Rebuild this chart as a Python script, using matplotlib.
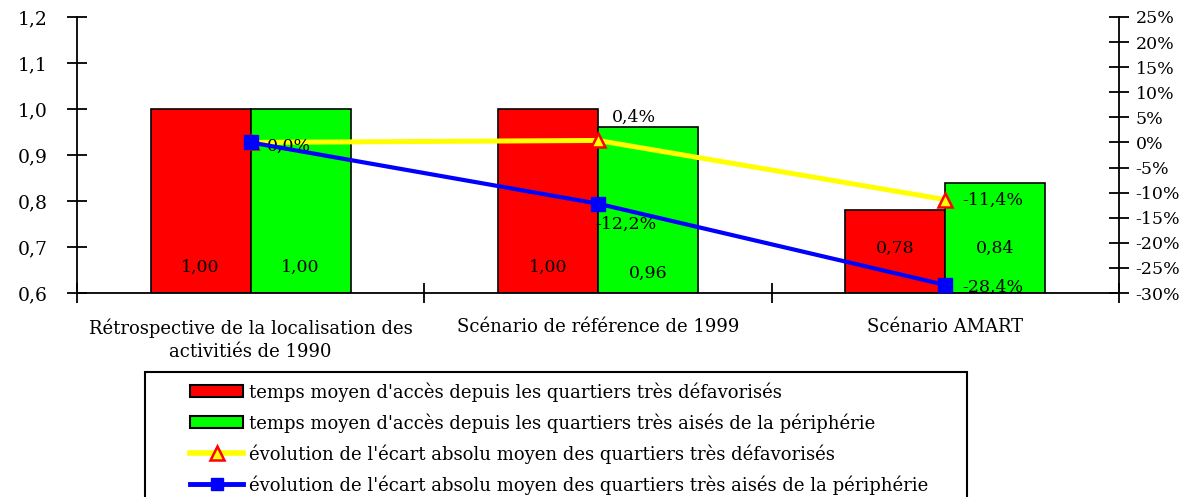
import matplotlib
matplotlib.use("Agg")
import matplotlib.pyplot as plt
import numpy as np
from matplotlib.patches import Rectangle
from matplotlib.lines import Line2D
from matplotlib.ticker import FixedLocator, FuncFormatter

plt.rcParams['font.family'] = ['DejaVu Serif']

# scenarios
categories = ["Rétrospective de la localisation des\nactivitiés de 1990",
              "Scénario de référence de 1999",
              "Scénario AMART"]

# mean access time (index, 1990 = 1)
temps_defavorises = [1.00, 1.00, 0.78]
temps_aises = [1.00, 0.96, 0.84]

# change in mean absolute gap (%)
ecart_defavorises = [0.0, 0.4, -11.4]
ecart_aises = [0.0, -12.2, -28.4]

legend_labels = [
    "temps moyen d'accès depuis les quartiers très défavorisés",
    "temps moyen d'accès depuis les quartiers très aisés de la périphérie",
    "évolution de l'écart absolu moyen des quartiers très défavorisés",
    "évolution de l'écart absolu moyen des quartiers très aisés de la périphérie",
]

RED = '#ff0000'
GREEN = '#00ff00'
YELLOW = '#ffff00'
BLUE = '#0000ff'
FS = 13        # category labels and legend
FS_VAL = 12.5  # value labels

fig = plt.figure(figsize=(11.88, 4.97), dpi=100)
ax = fig.add_axes([77 / 1188, 1 - 293 / 497, (1119 - 77) / 1188, (293 - 17) / 497])

x = np.arange(len(categories))
w = 0.288
ax.bar(x - w / 2, np.array(temps_defavorises) - 0.6, w, bottom=0.6,
       color=RED, edgecolor='black', linewidth=1.2)
ax.bar(x + w / 2, np.array(temps_aises) - 0.6, w, bottom=0.6,
       color=GREEN, edgecolor='black', linewidth=1.2)

ax.set_xlim(-0.5, len(categories) - 0.5)
ax.set_ylim(0.6, 1.2)
ax.set_yticks(np.arange(0.6, 1.21, 0.1))
ax.yaxis.set_major_formatter(FuncFormatter(lambda v, p: f"{v:.1f}".replace('.', ',')))

# boundary ticks on the category axis, labels centred between them
ax.xaxis.set_major_locator(FixedLocator(np.arange(-0.5, len(categories), 1.0)))
ax.xaxis.set_minor_locator(FixedLocator(x))
ax.xaxis.set_major_formatter(FuncFormatter(lambda v, p: ""))
ax.set_xticklabels(categories, minor=True, fontsize=FS, linespacing=1.4)
ax.tick_params(axis='x', which='minor', length=0, pad=18)
ax.tick_params(axis='x', which='major', direction='inout', length=14, width=1.3)
ax.tick_params(axis='y', direction='inout', length=14, width=1.3, labelsize=13.5, pad=14)

for s in ['top', 'right']:
    ax.spines[s].set_visible(False)
for s in ['left', 'bottom']:
    ax.spines[s].set_linewidth(1.3)

# bar value labels near the bar bases
red_label_y = [0.655, 0.655, 0.698]
green_label_y = [0.655, 0.643, 0.698]
for i in range(len(categories)):
    ax.text(x[i] - w / 2, red_label_y[i], f"{temps_defavorises[i]:.2f}".replace('.', ','),
            ha='center', va='center', fontsize=FS_VAL)
    ax.text(x[i] + w / 2, green_label_y[i], f"{temps_aises[i]:.2f}".replace('.', ','),
            ha='center', va='center', fontsize=FS_VAL)

# secondary axis for the percentage changes
ax2 = ax.twinx()
ax2.set_ylim(-30, 25)
ax2.set_yticks(np.arange(-30, 26, 5))
ax2.yaxis.set_major_formatter(FuncFormatter(lambda v, p: f"{v:.0f}%"))
ax2.tick_params(axis='y', direction='inout', length=14, width=1.3, labelsize=12.5, pad=5)
for s in ['top', 'left', 'bottom']:
    ax2.spines[s].set_visible(False)
ax2.spines['right'].set_linewidth(1.3)

ax2.plot(x, ecart_defavorises, color=YELLOW, lw=3.6, marker='^', ms=10,
         mfc=YELLOW, mec=RED, mew=1.8, zorder=3)
ax2.plot(x, ecart_aises, color=BLUE, lw=3.0, marker='s', ms=9.5,
         mfc=BLUE, mec=BLUE, zorder=4)

def pct(v):
    return f"{v:.1f}%".replace('.', ',')

# percentage labels beside the markers
ax2.text(x[0] + 0.047, ecart_aises[0] - 0.7, pct(ecart_aises[0]), ha='left', va='center', fontsize=FS_VAL)
ax2.text(x[1] + 0.04, ecart_defavorises[1] + 4.7, pct(ecart_defavorises[1]), ha='left', va='center', fontsize=FS_VAL)
ax2.text(x[1] - 0.009, ecart_aises[1] - 4.2, pct(ecart_aises[1]), ha='left', va='center', fontsize=FS_VAL)
ax2.text(x[2] + 0.049, ecart_defavorises[2] - 0.2, pct(ecart_defavorises[2]), ha='left', va='center', fontsize=FS_VAL)
ax2.text(x[2] + 0.049, ecart_aises[2] - 0.4, pct(ecart_aises[2]), ha='left', va='center', fontsize=FS_VAL)

# legend
handles = [
    Rectangle((0, 0), 1, 1, facecolor=RED, edgecolor='black', linewidth=1.5),
    Rectangle((0, 0), 1, 1, facecolor=GREEN, edgecolor='black', linewidth=1.5),
    Line2D([], [], color=YELLOW, lw=4, marker='^', ms=10, mfc=YELLOW, mec=RED, mew=1.8),
    Line2D([], [], color=BLUE, lw=3.5, marker='s', ms=9, mfc=BLUE, mec=BLUE),
]
fig.legend(handles, legend_labels, loc='upper left',
           bbox_to_anchor=(190 / 1188, 1 - 382 / 497), frameon=False,
           fontsize=FS, handlelength=2.95, handleheight=0.66, handletextpad=0.3,
           labelspacing=0.64, borderpad=0, borderaxespad=0)
fig.patches.append(Rectangle((145 / 1188, -0.05), (967 - 145) / 1188, 0.05 + 1 - 372 / 497,
                             transform=fig.transFigure, facecolor='none',
                             edgecolor='black', linewidth=1.5))

fig.savefig("out.png", dpi=100)
